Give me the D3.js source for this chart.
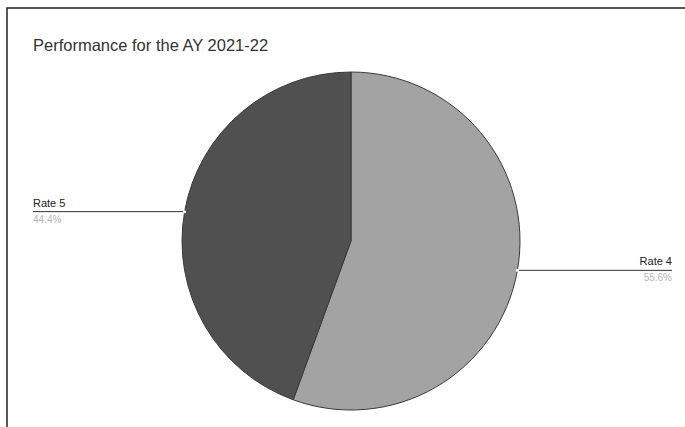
<!DOCTYPE html>
<html>
<head>
<meta charset="utf-8">
<script src="https://cdn.jsdelivr.net/npm/d3@7"></script>
<style>
  html, body { margin: 0; padding: 0; background: #fff; }
  svg { display: block; font-family: "Liberation Sans", Arial, sans-serif; }
</style>
</head>
<body>
<svg id="chart" width="685" height="427"></svg>
<script>
// Rating distribution for the academic year
const title = "Performance for the AY 2021-22";
const categories = ["Rate 4", "Rate 5"];
const counts = [5, 4];
const colors = ["#a3a3a3", "#505050"];

const svg = d3.select("#chart");
const W = 685, H = 427;

// Frame (top and left edges)
svg.append("path")
  .attr("d", `M7,${H} L7,8 L${W},8`)
  .attr("fill", "none")
  .attr("stroke", "#222")
  .attr("stroke-width", 1.5);

svg.append("text")
  .attr("x", 33).attr("y", 51)
  .attr("font-size", 16.5)
  .attr("fill", "#333")
  .text(title);

const cx = 351, cy = 241, r = 169;
const total = d3.sum(counts);
const data = categories.map((c, i) => ({ name: c, value: counts[i], color: colors[i] }));

const pie = d3.pie().value(d => d.value).sort(null);
const arc = d3.arc().innerRadius(0).outerRadius(r);
const arcs = pie(data);

const g = svg.append("g").attr("transform", `translate(${cx},${cy})`);
g.selectAll("path.slice")
  .data(arcs)
  .join("path")
  .attr("class", "slice")
  .attr("d", arc)
  .attr("fill", d => d.data.color)
  .attr("stroke", "#3a3a3a")
  .attr("stroke-width", 1);

// Leader lines and labels
const fmt = d3.format(".1f");
arcs.forEach(a => {
  const mid = (a.startAngle + a.endAngle) / 2;
  const px = cx + r * Math.sin(mid);
  const py = cy - r * Math.cos(mid);
  const right = Math.sin(mid) > 0;
  const endX = right ? 672 : 33;
  svg.append("line")
    .attr("x1", px).attr("y1", py)
    .attr("x2", endX).attr("y2", py)
    .attr("stroke", "#333").attr("stroke-width", 1);
  svg.append("circle")
    .attr("cx", px).attr("cy", py).attr("r", 1.5)
    .attr("fill", "#fff");
  svg.append("text")
    .attr("x", endX).attr("y", py - 5)
    .attr("text-anchor", right ? "end" : "start")
    .attr("font-size", 11)
    .attr("fill", "#222")
    .text(a.data.name);
  svg.append("text")
    .attr("x", endX).attr("y", py + 11)
    .attr("text-anchor", right ? "end" : "start")
    .attr("font-size", 10)
    .attr("fill", "#b5b5b5")
    .text(fmt(a.data.value / total * 100) + "%");
});
</script>
</body>
</html>
